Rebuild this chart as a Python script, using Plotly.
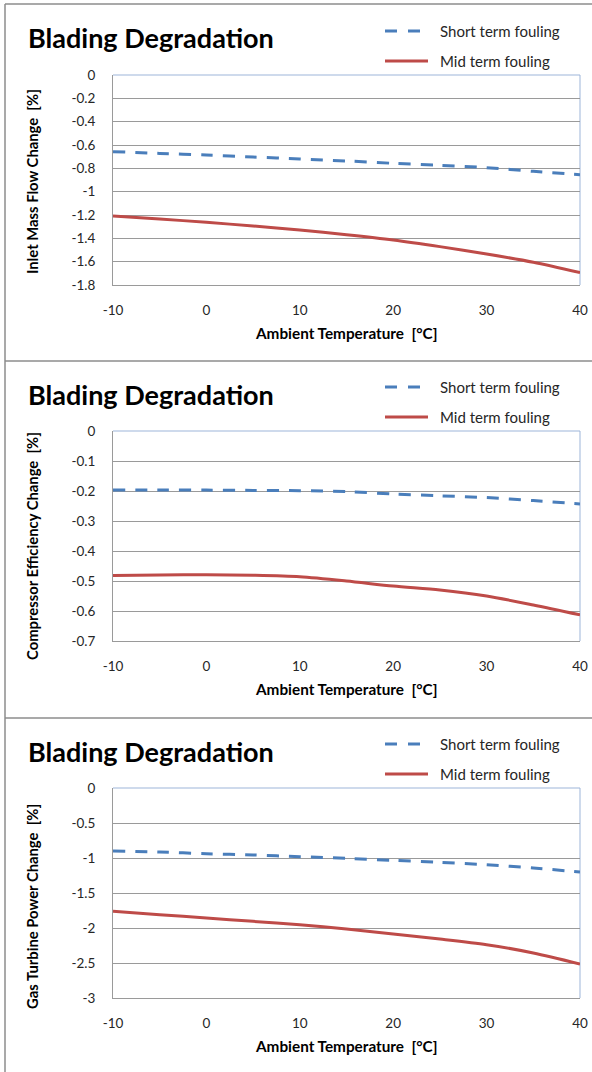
import plotly.graph_objects as go

# ---------------- data ----------------
temps = [-10, -5, 0, 5, 10, 15, 20, 25, 30, 35, 40]
series_names = ["Short term fouling", "Mid term fouling"]

mass_flow_short = [-0.657, -0.672, -0.686, -0.703, -0.720, -0.737, -0.757, -0.774, -0.794, -0.826, -0.854]
mass_flow_mid = [-1.209, -1.234, -1.263, -1.294, -1.329, -1.369, -1.414, -1.471, -1.534, -1.605, -1.694]

efficiency_short = [-0.197, -0.197, -0.197, -0.198, -0.199, -0.202, -0.210, -0.216, -0.222, -0.232, -0.243]
efficiency_mid = [-0.482, -0.480, -0.479, -0.481, -0.486, -0.500, -0.517, -0.530, -0.550, -0.580, -0.613]

power_short = [-0.900, -0.914, -0.939, -0.957, -0.981, -1.005, -1.034, -1.062, -1.096, -1.143, -1.200]
power_mid = [-1.762, -1.810, -1.857, -1.905, -1.952, -2.014, -2.086, -2.157, -2.238, -2.357, -2.514]

chart_title = "Blading Degradation"
x_title = "Ambient Temperature\u00a0\u00a0[°C]"
y_titles = ["Inlet Mass Flow Change\u00a0\u00a0[%]",
            "Compressor Efficiency Change\u00a0\u00a0[%]",
            "Gas Turbine Power Change\u00a0\u00a0[%]"]
y_ranges = [(-1.8, 0), (-0.7, 0), (-3, 0)]

x_tick_values = [-10, 0, 10, 20, 30, 40]
x_tick_labels = ["-10", "0", "10", "20", "30", "40"]

mass_flow_tick_values = [0, -0.2, -0.4, -0.6, -0.8, -1.0, -1.2, -1.4, -1.6, -1.8]
mass_flow_tick_labels = ["0", "-0.2", "-0.4", "-0.6", "-0.8", "-1", "-1.2", "-1.4", "-1.6", "-1.8"]
efficiency_tick_values = [0, -0.1, -0.2, -0.3, -0.4, -0.5, -0.6, -0.7]
efficiency_tick_labels = ["0", "-0.1", "-0.2", "-0.3", "-0.4", "-0.5", "-0.6", "-0.7"]
power_tick_values = [0, -0.5, -1, -1.5, -2, -2.5, -3]
power_tick_labels = ["0", "-0.5", "-1", "-1.5", "-2", "-2.5", "-3"]

# ---------------- layout geometry (pixels) ----------------
W, H = 592, 1072
FONT = "Lato"
BLUE = "#4A7EBB"
RED = "#BE4B48"
GRID = "#9A9A9A"
BORDER_BLUE = "#9DB5D9"
FRAME = "#8C8C8C"
TICK_COLOR = "#262626"

plot_left, plot_right = 113, 580
panels = [
    dict(top=75, bottom=285, short=mass_flow_short, mid=mass_flow_mid,
         tv=mass_flow_tick_values, tt=mass_flow_tick_labels),
    dict(top=431, bottom=641, short=efficiency_short, mid=efficiency_mid,
         tv=efficiency_tick_values, tt=efficiency_tick_labels),
    dict(top=788, bottom=998, short=power_short, mid=power_mid,
         tv=power_tick_values, tt=power_tick_labels),
]
panel_offsets = [0, 356, 713]
ytitle_centers = [182, 546, 907]
xtitle_centers = [333, 689, 1046]


def px(x):
    return x / W


def py(y):
    return 1 - y / H


fig = go.Figure()
shapes = []
annotations = []

for i, p in enumerate(panels):
    n = "" if i == 0 else str(i + 1)
    xa, ya = "x" + n, "y" + n
    fig.add_trace(go.Scatter(x=temps, y=p["short"], mode="lines", name=series_names[0],
                             line=dict(color=BLUE, width=3, dash="12px,10px", shape="spline", smoothing=0.8),
                             xaxis=xa, yaxis=ya, showlegend=False))
    fig.add_trace(go.Scatter(x=temps, y=p["mid"], mode="lines", name=series_names[1],
                             line=dict(color=RED, width=3, shape="spline", smoothing=0.8),
                             xaxis=xa, yaxis=ya, showlegend=False))

    fig.layout["xaxis" + n] = dict(
        domain=[px(plot_left), px(plot_right)], anchor=ya, range=[-10, 40],
        tickmode="array", tickvals=x_tick_values, ticktext=x_tick_labels,
        showgrid=False, zeroline=False, automargin=False,
        showline=True, linecolor=GRID, linewidth=1, ticks="",
        ticklabelstandoff=13,
        tickfont=dict(family=FONT, size=13.5, color=TICK_COLOR),
    )
    fig.layout["yaxis" + n] = dict(
        domain=[py(p["bottom"]), py(p["top"])], anchor=xa, range=list(y_ranges[i]),
        tickmode="array", tickvals=p["tv"], ticktext=p["tt"],
        showgrid=True, gridcolor=GRID, gridwidth=1, automargin=False,
        zeroline=False, showline=True, linecolor=GRID, linewidth=1, ticks="",
        ticklabelstandoff=14,
        tickfont=dict(family=FONT, size=13.5, color=TICK_COLOR),
    )

    off = panel_offsets[i]
    # plot-area border (top & right) in light blue
    shapes.append(dict(type="line", xref="paper", yref="paper", layer="between",
                       x0=px(plot_left), x1=px(plot_right), y0=py(p["top"]), y1=py(p["top"]),
                       line=dict(color=BORDER_BLUE, width=1)))
    shapes.append(dict(type="line", xref="paper", yref="paper", layer="between",
                       x0=px(plot_right), x1=px(plot_right), y0=py(p["top"]), y1=py(p["bottom"]),
                       line=dict(color=BORDER_BLUE, width=1)))

    # chart title
    annotations.append(dict(text="<b>" + chart_title + "</b>", xref="paper", yref="paper",
                            x=px(26), y=py(38 + off), xanchor="left", yanchor="middle",
                            showarrow=False, font=dict(family=FONT, size=27, color="#000000")))
    # y-axis title
    annotations.append(dict(text="<b>" + y_titles[i] + "</b>", xref="paper", yref="paper",
                            x=px(32), y=py(ytitle_centers[i]), xanchor="center", yanchor="middle",
                            textangle=-90, showarrow=False,
                            font=dict(family=FONT, size=14.8, color="#000000")))
    # x-axis title
    annotations.append(dict(text="<b>" + x_title + "</b>", xref="paper", yref="paper",
                            x=px((plot_left + plot_right) / 2), y=py(xtitle_centers[i]),
                            xanchor="center", yanchor="middle", showarrow=False,
                            font=dict(family=FONT, size=15.3, color="#000000")))
    # legend (drawn manually)
    leg_y = [31 + off, 61 + off]
    shapes.append(dict(type="line", xref="paper", yref="paper",
                       x0=px(385), x1=px(421), y0=py(leg_y[0]), y1=py(leg_y[0]),
                       line=dict(color=BLUE, width=3, dash="12px,11px")))
    shapes.append(dict(type="line", xref="paper", yref="paper",
                       x0=px(385), x1=px(428), y0=py(leg_y[1]), y1=py(leg_y[1]),
                       line=dict(color=RED, width=3)))
    for k in range(2):
        annotations.append(dict(text=series_names[k], xref="paper", yref="paper",
                                x=px(438), y=py(leg_y[k]), xanchor="left", yanchor="middle",
                                showarrow=False, font=dict(family=FONT, size=15, color=TICK_COLOR)))

# outer frame and separators
shapes.append(dict(type="line", xref="paper", yref="paper", x0=px(5), x1=px(5), y0=py(4), y1=0,
                   line=dict(color=FRAME, width=1.5)))
for yy in [4, 361, 718]:
    shapes.append(dict(type="line", xref="paper", yref="paper", x0=px(5), x1=1, y0=py(yy), y1=py(yy),
                       line=dict(color=FRAME, width=1.5)))

fig.update_layout(
    width=W, height=H, margin=dict(l=0, r=0, t=0, b=0, pad=0, autoexpand=False),
    paper_bgcolor="white", plot_bgcolor="white",
    shapes=shapes, annotations=annotations, showlegend=False,
    font=dict(family=FONT),
)

fig.write_html(
    "out.html",
    config={"displayModeBar": False, "responsive": False},
    post_script="document.documentElement.style.margin='0';document.body.style.margin='0';"
                "document.body.style.padding='0';document.body.style.overflow='hidden';",
)
